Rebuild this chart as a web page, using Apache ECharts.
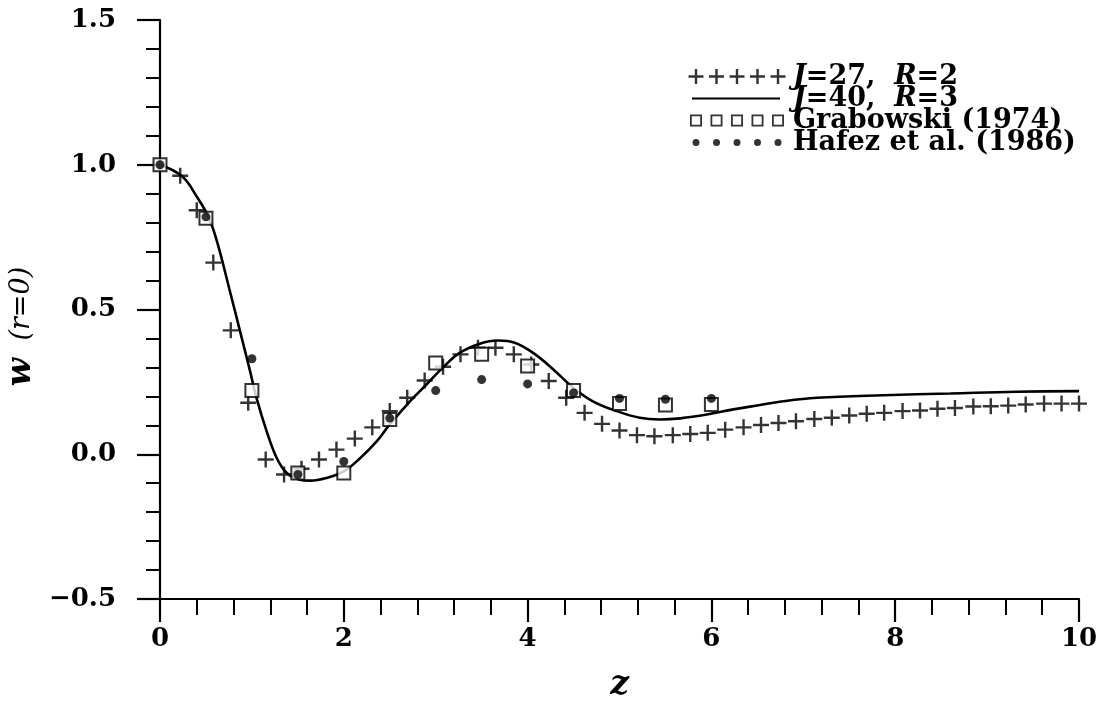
<!DOCTYPE html>
<html>
<head>
<meta charset="utf-8">
<script src="https://cdn.jsdelivr.net/npm/echarts@6/dist/echarts.min.js"></script>
<style>
  html, body { margin: 0; padding: 0; background: #fff; }
  #chart { width: 1101px; height: 702px; }
</style>
</head>
<body>
<div id="chart"></div>
<script>
// Centre-line axial velocity w(r=0) against z

// J=27, R=2 (plus markers)
const plusZ = [0.22, 0.40, 0.58, 0.77, 0.96, 1.15, 1.35, 1.54, 1.73, 1.92, 2.12, 2.31, 2.50,
  2.69, 2.88, 3.08, 3.27, 3.46, 3.65, 3.85, 4.04, 4.23, 4.42, 4.62, 4.81, 5.00, 5.19, 5.38,
  5.58, 5.77, 5.96, 6.15, 6.35, 6.54, 6.73, 6.92, 7.12, 7.31, 7.50, 7.69, 7.88, 8.08, 8.27,
  8.46, 8.65, 8.85, 9.04, 9.23, 9.42, 9.62, 9.81, 10.00];
const plusW = [0.962, 0.843, 0.662, 0.428, 0.178, -0.018, -0.070, -0.050, -0.018, 0.016, 0.054,
  0.093, 0.149, 0.195, 0.255, 0.302, 0.345, 0.368, 0.368, 0.345, 0.310, 0.253, 0.195, 0.143,
  0.105, 0.082, 0.066, 0.062, 0.066, 0.070, 0.074, 0.085, 0.093, 0.101, 0.108, 0.114, 0.122,
  0.126, 0.134, 0.140, 0.143, 0.149, 0.151, 0.157, 0.160, 0.165, 0.166, 0.168, 0.172, 0.175,
  0.175, 0.175];

// J=40, R=3 (solid curve)
const lineZ = [0, 0.24, 0.40, 0.53, 0.62, 0.76, 0.87, 0.98, 1.05, 1.16, 1.27, 1.38, 1.52, 1.63,
  1.81, 2.00, 2.18, 2.36, 2.50, 2.72, 2.90, 3.08, 3.26, 3.48, 3.68, 3.86, 4.06, 4.28, 4.50,
  4.71, 4.97, 5.22, 5.44, 5.66, 5.95, 6.24, 6.53, 6.78, 7.15, 7.87, 8.60, 9.32, 10.00];
const lineW = [1.000, 0.960, 0.890, 0.818, 0.735, 0.564, 0.426, 0.287, 0.195, 0.080, -0.013,
  -0.065, -0.088, -0.091, -0.082, -0.059, -0.013, 0.045, 0.103, 0.183, 0.241, 0.300, 0.350,
  0.382, 0.393, 0.385, 0.350, 0.293, 0.229, 0.183, 0.149, 0.126, 0.120, 0.124, 0.137, 0.155,
  0.170, 0.183, 0.195, 0.204, 0.210, 0.216, 0.218];

// Reference solutions sampled at the same stations
const refZ = [0, 0.5, 1.0, 1.5, 2.0, 2.5, 3.0, 3.5, 4.0, 4.5, 5.0, 5.5, 6.0];
const grabowskiW = [1.000, 0.815, 0.220, -0.065, -0.065, 0.120, 0.315, 0.345, 0.305, 0.220, 0.175, 0.170, 0.172];
const hafezW = [1.000, 0.820, 0.330, -0.070, -0.025, 0.125, 0.220, 0.258, 0.243, 0.212, 0.193, 0.190, 0.193];

const seriesNames = ['J=27,  R=2', 'J=40,  R=3', 'Grabowski (1974)', 'Hafez et al. (1986)'];
const xTicks = { min: 0, max: 10, step: 2 };
const yTicks = { min: -0.5, max: 1.5, step: 0.5 };

const pair = (xs, ys) => xs.map((x, i) => [x, ys[i]]);

const FONT = '"DejaVu Serif", "Liberation Serif", serif';

// Legend swatches: five repeated marks in a W x H box (corner specks pin the bbox)
const W = 100, H = 16;
const specks = `M0,0h0.01v0.01h-0.01Z M${W - 0.01},${H - 0.01}h0.01v0.01h-0.01Z`;
const centres = [8, 28.5, 49, 69.5, 90];
const plusPath = 'path://' + specks + centres.map(c =>
  `M${c - 1.2},0.5H${c + 1.2}V6.8H${c + 7.5}V9.2H${c + 1.2}V15.5H${c - 1.2}V9.2H${c - 7.5}V6.8H${c - 1.2}Z`).join('');
const linePath = 'path://' + specks + `M4,7H${W - 8}V9H4Z`;
const squarePath = 'path://' + specks + centres.map(c =>
  `M${c - 6},2H${c + 6}V14H${c - 6}Z M${c - 4.2},3.8V12.2H${c + 4.2}V3.8Z`).join('');
const dotPath = 'path://' + specks + centres.map(c =>
  `M${c - 3.5},8a3.5,3.5 0 1,0 7,0a3.5,3.5 0 1,0 -7,0Z`).join('');
// Single plus marker for the data
const plusMarker = 'path://M6.8,0H9.2V6.8H16V9.2H9.2V16H6.8V9.2H0V6.8H6.8Z';

const chart = echarts.init(document.getElementById('chart'), null, { renderer: 'canvas' });

const LEG_SIZE = 27;
const legendRich = {
  i: { fontFamily: FONT, fontStyle: 'italic', fontWeight: 'bold', fontSize: LEG_SIZE, color: '#000', lineHeight: 23 },
  n: { fontFamily: FONT, fontWeight: 'bold', fontSize: LEG_SIZE, color: '#000', lineHeight: 23 }
};

chart.setOption({
  animation: false,
  backgroundColor: '#fff',
  grid: { left: 160, right: 22, top: 20, bottom: 103, containLabel: false, outerBoundsMode: 'none' },
  legend: {
    orient: 'vertical',
    left: 683,
    top: 58,
    itemWidth: W,
    itemHeight: H,
    itemGap: -5,
    selectedMode: false,
    data: [
      { name: seriesNames[0], icon: plusPath, itemStyle: { color: '#000', borderWidth: 0 } },
      { name: seriesNames[1], icon: linePath, itemStyle: { color: '#000', borderWidth: 0 } },
      { name: seriesNames[2], icon: squarePath, itemStyle: { color: '#000', borderWidth: 0 } },
      { name: seriesNames[3], icon: dotPath, itemStyle: { color: '#000', borderWidth: 0 } }
    ],
    formatter: function (name) {
      if (name === seriesNames[0]) return '{i|J}{n|=27,  }{i|R}{n|=2}';
      if (name === seriesNames[1]) return '{i|J}{n|=40,  }{i|R}{n|=3}';
      return '{n|' + name + '}';
    },
    textStyle: { fontFamily: FONT, fontWeight: 'bold', fontSize: LEG_SIZE, color: '#000', lineHeight: 23, rich: legendRich }
  },
  xAxis: {
    type: 'value',
    min: xTicks.min,
    max: xTicks.max,
    interval: xTicks.step,
    name: '{z|z}',
    nameLocation: 'middle',
    nameGap: 70,
    nameTextStyle: {
      rich: { z: { fontFamily: FONT, fontStyle: 'italic', fontWeight: 'bold', fontSize: 33, color: '#000' } }
    },
    axisLine: { show: true, onZero: false, lineStyle: { color: '#000', width: 2.2 } },
    axisTick: { show: true, inside: false, length: 23, lineStyle: { color: '#000', width: 2.2 } },
    minorTick: { show: true, splitNumber: 5, length: 16, lineStyle: { color: '#000', width: 2 } },
    splitLine: { show: false },
    axisLabel: { margin: 27, fontFamily: FONT, fontWeight: 'bold', fontSize: 26, color: '#000' }
  },
  yAxis: {
    type: 'value',
    min: yTicks.min,
    max: yTicks.max,
    interval: yTicks.step,
    name: '{w|w}{r|  (r=0)}',
    nameLocation: 'middle',
    nameRotate: 90,
    nameGap: 108,
    nameTextStyle: {
      padding: [0, 34, 0, 0],
      rich: {
        w: { fontFamily: FONT, fontStyle: 'italic', fontWeight: 'bold', fontSize: 33, color: '#000' },
        r: { fontFamily: FONT, fontStyle: 'italic', fontSize: 27, color: '#000' }
      }
    },
    axisLine: { show: true, onZero: false, lineStyle: { color: '#000', width: 2.2 } },
    axisTick: { show: true, inside: false, length: 23, lineStyle: { color: '#000', width: 2.2 } },
    minorTick: { show: true, splitNumber: 5, length: 14, lineStyle: { color: '#000', width: 2 } },
    splitLine: { show: false },
    axisLabel: {
      margin: 44,
      fontFamily: FONT, fontWeight: 'bold', fontSize: 26, color: '#000',
      formatter: v => v.toFixed(1).replace('-', '\u2212')
    }
  },
  series: [
    {
      name: seriesNames[1],
      type: 'line',
      data: pair(lineZ, lineW),
      smooth: 0.4,
      showSymbol: false,
      symbol: 'none',
      lineStyle: { color: '#000', width: 2.6 },
      itemStyle: { color: '#000' },
      z: 2
    },
    {
      name: seriesNames[0],
      type: 'scatter',
      data: pair(plusZ, plusW),
      symbol: plusMarker,
      symbolSize: 16,
      itemStyle: { color: '#000' },
      z: 3
    },
    {
      name: seriesNames[2],
      type: 'scatter',
      data: pair(refZ, grabowskiW),
      symbol: 'rect',
      symbolSize: 13,
      itemStyle: { color: '#fff', borderColor: '#000', borderWidth: 2 },
      z: 4
    },
    {
      name: seriesNames[3],
      type: 'scatter',
      data: pair(refZ, hafezW),
      symbol: 'circle',
      symbolSize: 9,
      itemStyle: { color: '#000' },
      z: 5
    }
  ]
});
</script>
</body>
</html>
